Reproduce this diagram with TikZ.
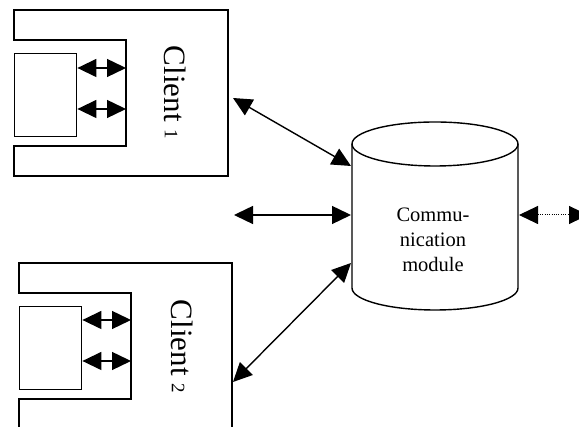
\documentclass[tikz,border=0pt]{standalone}
\usepackage{fontspec}
\setmainfont{Liberation Serif}
\usetikzlibrary{arrows.meta}
\begin{document}
\begin{tikzpicture}[x=1pt,y=1pt,
  line/.style={line width=1.4pt},
  tip/.tip={Triangle[length=19pt,width=18pt]},
  dbl/.style={line width=1.4pt,{tip}-{tip}},
  dotdbl/.style={line width=1pt,dash pattern=on 1pt off 1.3pt,{tip}-{tip}},
  inner/.style={draw,line width=1.4pt,minimum width=62pt,minimum height=83pt,inner sep=0pt,anchor=south west},
  clientlabel/.style={rotate=-90,font=\fontsize{31}{31}\selectfont,inner sep=0pt},
  modlabel/.style={align=center,font=\fontsize{20.5}{25}\selectfont}]
\useasboundingbox (0,0) rectangle (579,427);
\clip (0,0) rectangle (579,427);

% Client 1
\draw[line] (14,417) -- (228,417) -- (228,251) -- (14,251) -- (14,281) -- (126,281) -- (126,387) -- (14,387) -- cycle;
\node[inner] (r1) at (14,290) {};
\coordinate (w1a) at (126,359);
\coordinate (w1b) at (126,318);
\draw[dbl] (r1.east |- w1a) -- (w1a);
\draw[dbl] (r1.east |- w1b) -- (w1b);
\node[clientlabel] (c1) at (175.6,334.5) {Client {\fontsize{19}{19}\selectfont 1}};

% Client 2
\draw[line] (19,-10) -- (19,28) -- (131,28) -- (131,134) -- (19,134) -- (19,164) -- (232,164) -- (232,-10);
\node[inner] (r2) at (19,37) {};
\coordinate (w2a) at (131,107);
\coordinate (w2b) at (131,66);
\draw[dbl] (r2.east |- w2a) -- (w2a);
\draw[dbl] (r2.east |- w2b) -- (w2b);
\node[clientlabel] (c2) at (182.6,80.5) {Client {\fontsize{19}{19}\selectfont 2}};

% Communication module (cylinder)
\draw[line] (352,283) -- (352,139) arc[start angle=180,end angle=360,x radius=83,y radius=22] -- (518,283);
\draw[line] (435,283) ellipse [x radius=83, y radius=22];
\node[modlabel] (cm) at (433,187) {Commu-\\nication\\module};

% connectors
\coordinate (p1) at (233,329);
\coordinate (q1) at (351,261);
\coordinate (p2) at (234,212);
\coordinate (q2) at (351,212);
\coordinate (p3) at (233,45);
\coordinate (q3) at (351,164);
\coordinate (q4) at (519,212);
\coordinate (p4) at (588,212);
\draw[dbl] (p1) -- (q1);
\draw[dbl] (p2) -- (q2);
\draw[dbl] (p3) -- (q3);
\draw[dotdbl] (q4) -- (p4);
\end{tikzpicture}
\end{document}
